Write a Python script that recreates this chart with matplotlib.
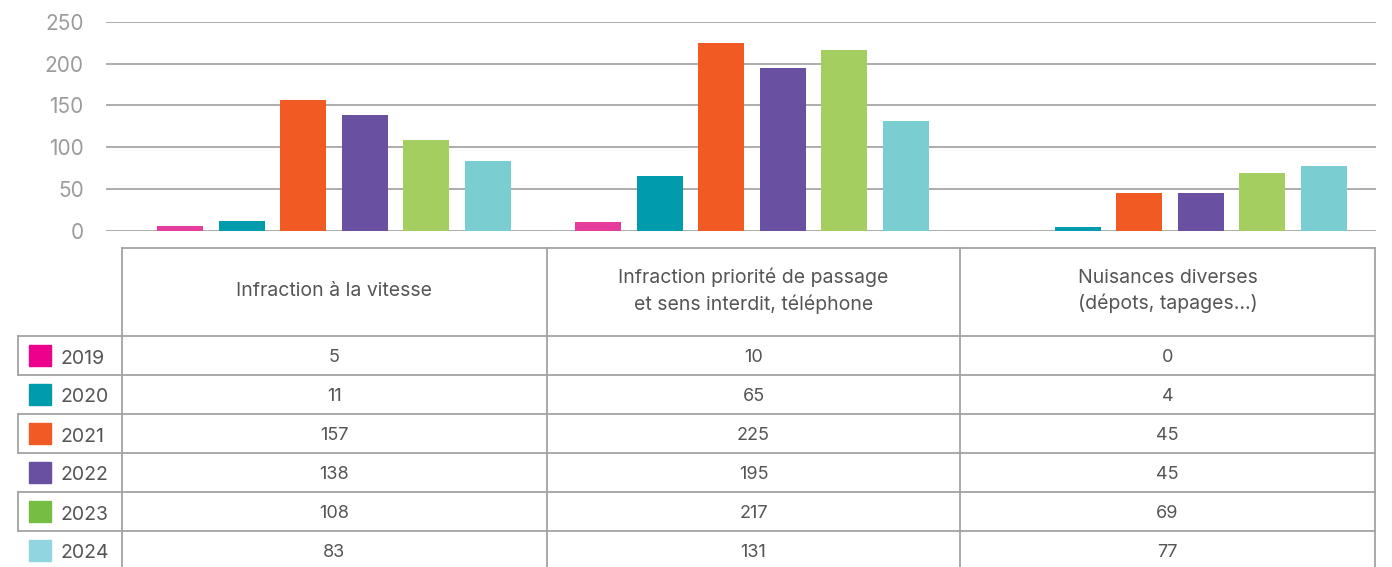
import matplotlib

matplotlib.use("Agg")
import matplotlib.pyplot as plt
import numpy as np

plt.rcParams["font.family"] = ["Inter", "DejaVu Sans"]

CATEGORIES = [
    "Infraction à la vitesse",
    "Infraction priorité de passage\net sens interdit, téléphone",
    "Nuisances diverses\n(dépots, tapages…)",
]
YEARS = ["2019", "2020", "2021", "2022", "2023", "2024"]
VALUES = {
    "2019": [5, 10, 0],
    "2020": [11, 65, 4],
    "2021": [157, 225, 45],
    "2022": [138, 195, 45],
    "2023": [108, 217, 69],
    "2024": [83, 131, 77],
}
BAR_COLORS = ["#E53D9B", "#009CAE", "#F15A22", "#6950A1", "#A4CE60", "#7ACDD1"]
KEY_COLORS = ["#EC008C", "#009CAE", "#F15A24", "#6950A1", "#76BE43", "#91D5E1"]
Y_TICKS = [0, 50, 100, 150, 200, 250]

W, H = 1392, 567
GRID = "#a6a6a6"
LINE = "#a3a3a3"
TEXT = "#555555"

fig = plt.figure(figsize=(W / 100, H / 100), dpi=100)

# bar chart area in pixels
ax_l, ax_r, ax_t, ax_b = 106, 1376, 22, 230.5
ax = fig.add_axes([ax_l / W, 1 - ax_b / H, (ax_r - ax_l) / W, (ax_b - ax_t) / H])
step_px = 418.0
c0 = 334.0
ax.set_xlim(-(c0 - ax_l) / step_px, (ax_r - c0) / step_px)
ax.set_ylim(0, 250)

x = np.arange(len(CATEGORIES))
spacing = 61.5 / step_px
bar_w = 46 / step_px
for i, year in enumerate(YEARS):
    ax.bar(x + (i - 2.5) * spacing, VALUES[year], width=bar_w, color=BAR_COLORS[i], zorder=3)

ax.set_yticks(Y_TICKS)
ax.set_yticklabels([str(t) for t in Y_TICKS], fontsize=15, color="#9b9b9b")
ax.tick_params(axis="y", length=0, pad=16)
ax.set_xticks([])
for s in ax.spines.values():
    s.set_visible(False)
ax.yaxis.grid(True, color=GRID, linewidth=1.3, zorder=0)
ax.set_axisbelow(True)

# data table drawn in pixel coordinates
tb = fig.add_axes([0, 0, 1, 1])
tb.set_xlim(0, W)
tb.set_ylim(H, 0)
tb.axis("off")

col_x = [122, 547, 960, 1375]
head_top, head_bot = 248, 336
row_h = 39
label_left = 18

tb.plot([col_x[0], col_x[-1]], [head_top, head_top], color=LINE, lw=1.3)
for cx in col_x:
    tb.plot([cx, cx], [head_top, H + 5], color=LINE, lw=1.3)
for k in range(len(YEARS) + 1):
    yy = head_bot + k * row_h
    tb.plot([label_left, col_x[-1]], [yy, yy], color=LINE, lw=1.3)
for k in range(0, len(YEARS), 2):
    y0 = head_bot + k * row_h
    tb.plot([label_left, label_left], [y0, y0 + row_h], color=LINE, lw=1.3)

for j, cat in enumerate(CATEGORIES):
    cx = (col_x[j] + col_x[j + 1]) / 2
    tb.text(cx, 291, cat, ha="center", va="center", fontsize=14, color=TEXT,
            linespacing=1.46)

for i, year in enumerate(YEARS):
    yc = head_bot + i * row_h + row_h / 2
    tb.add_patch(plt.Rectangle((29, yc - 11), 22, 21, color=KEY_COLORS[i]))
    tb.text(61, yc + 3, year, ha="left", va="center", fontsize=14, color=TEXT)
    for j in range(len(CATEGORIES)):
        cx = (col_x[j] + col_x[j + 1]) / 2
        tb.text(cx, yc + 2, str(VALUES[year][j]), ha="center", va="center",
                fontsize=13, color=TEXT)

fig.savefig("out.png", dpi=100)
